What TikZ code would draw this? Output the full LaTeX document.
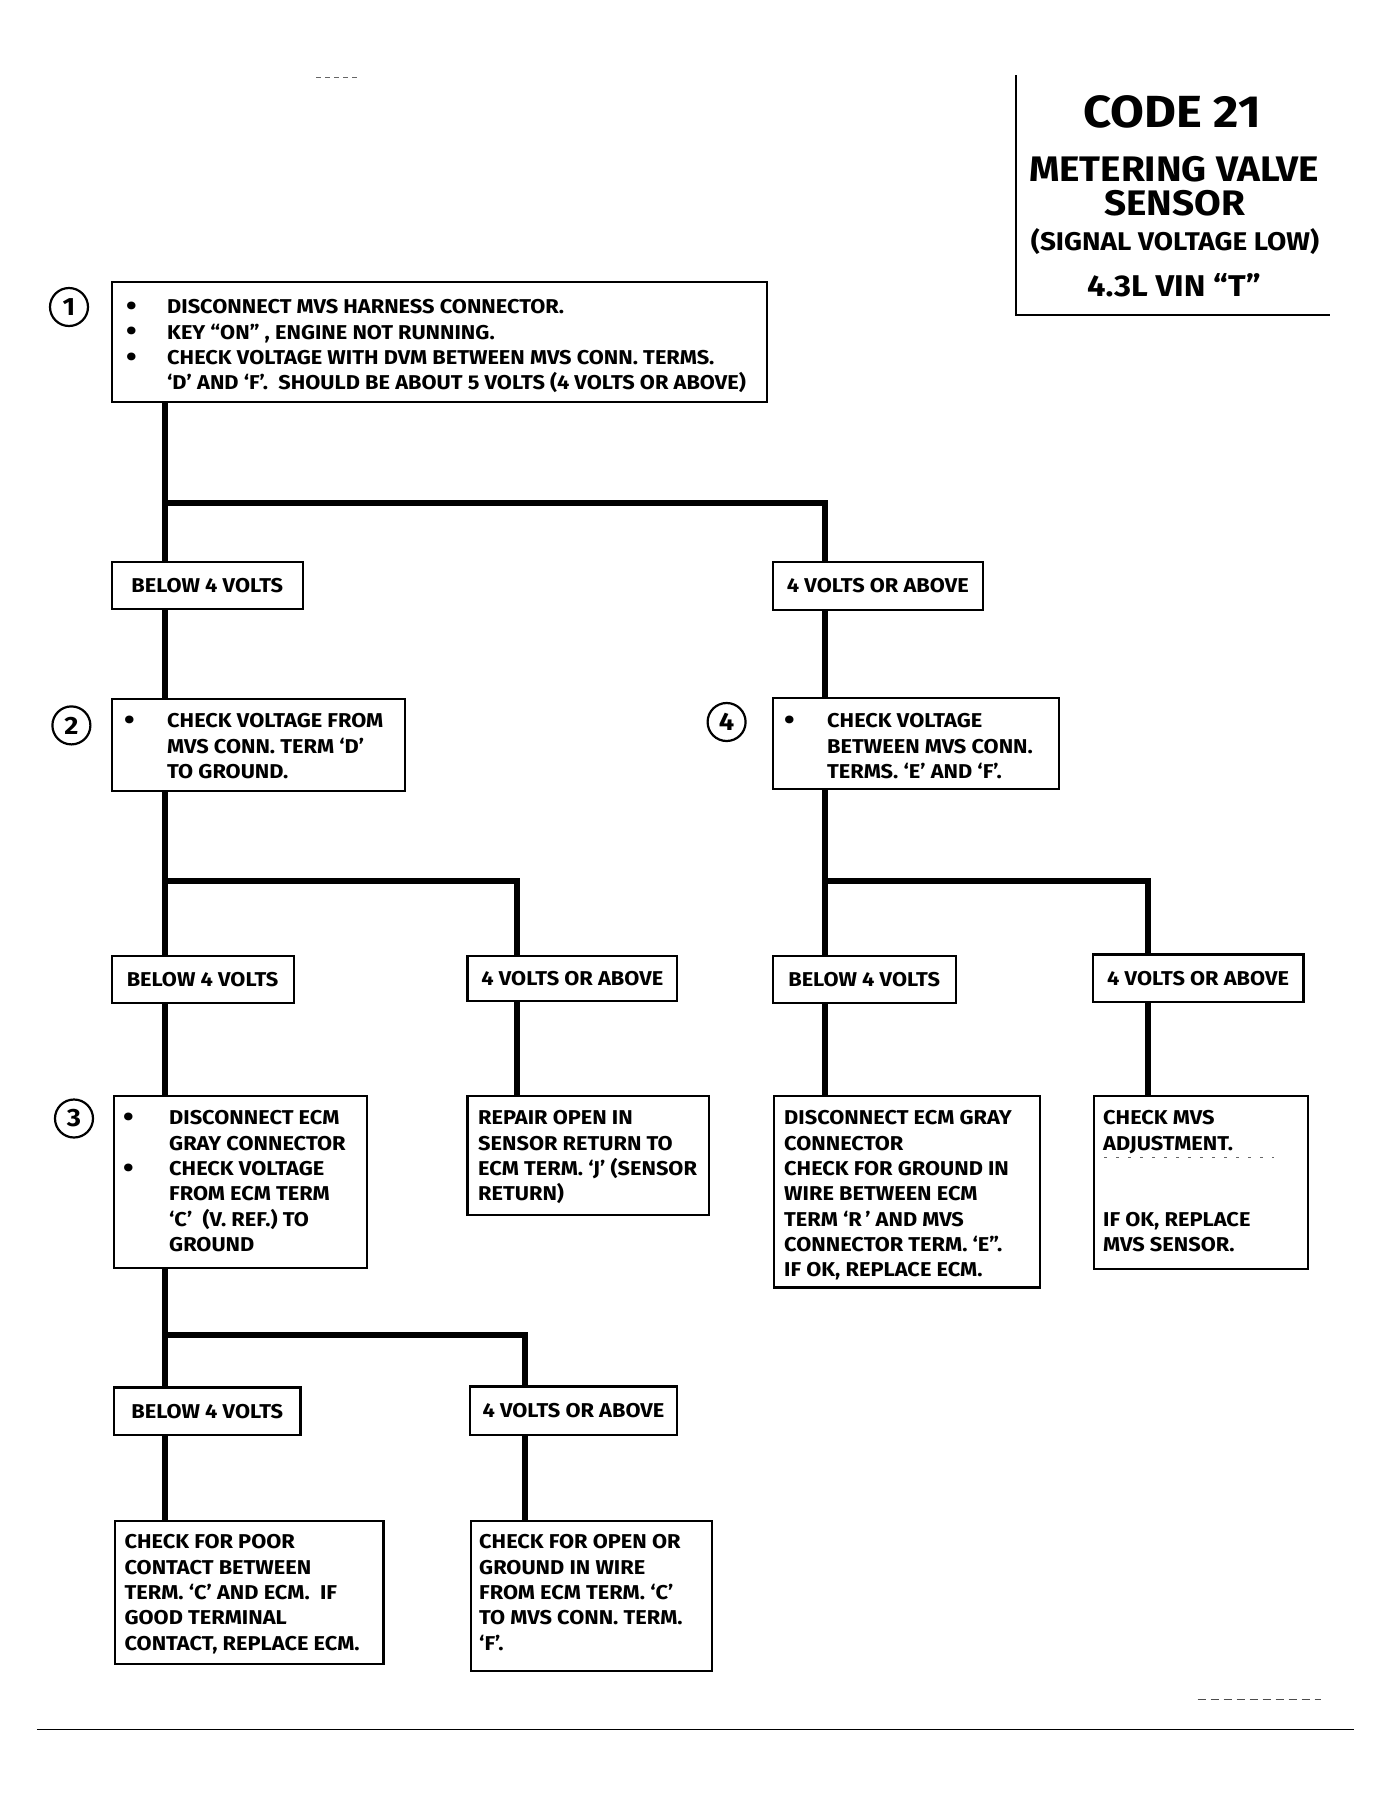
\documentclass[tikz,border=0pt]{standalone}
\usepackage{fontspec}
\newfontfamily\nfont{Fira Sans}[Ligatures=TeX, FakeStretch=1.09]
\newcommand\bodyfont{\nfont\bfseries\fontsize{20}{25.3}\selectfont}
\newcommand\bl[1]{\makebox[#1][l]{\hspace{0pt}\raisebox{-1.5pt}{\fontsize{28}{28}\selectfont\textbullet}}}
\tikzset{
  box/.style={draw, line width=2.2pt, inner sep=0pt, anchor=north west, fill=white, font=\bodyfont},
  txt/.style={inner sep=0pt, anchor=base west, font=\bodyfont},
  conn/.style={line width=6pt},
  circ/.style={draw, circle, line width=2.2pt, minimum size=38pt, inner sep=0pt, font=\nfont\bfseries\fontsize{25}{25}\selectfont},
  ttl/.style={inner sep=0pt, anchor=center}
}
\begin{document}
\begin{tikzpicture}[x=1pt,y=-1pt]
\fill[white] (0,0) rectangle (1391,1805);
\useasboundingbox (0,0) rectangle (1391,1805);

% title block
\draw[line width=2pt] (1016,75) -- (1016,315) -- (1330,315);
\node[ttl, font=\nfont\bfseries\fontsize{45}{45}\selectfont] (t1) at (1172,112) {CODE 21};
\node[ttl, font=\nfont\bfseries\fontsize{35.5}{35.5}\selectfont] (t2) at (1174,169) {METERING VALVE};
\node[ttl, font=\nfont\bfseries\fontsize{35.5}{35.5}\selectfont] (t3) at (1174.5,203) {SENSOR};
\node[ttl, font=\nfont\bfseries\fontsize{25.6}{25.6}\selectfont] (t4) at (1175,242) {(SIGNAL VOLTAGE LOW)};
\node[ttl, font=\nfont\bfseries\fontsize{30}{30}\selectfont] (t5) at (1174,285) {4.3L VIN ``T''};

% boxes
\node[box, minimum width=655.2, minimum height=119.7] (b1) at (110.5,281) {};
\node[box, minimum width=191.2, minimum height=47.2] (l1) at (110.5,560.8) {BELOW 4 VOLTS\hspace{4pt}};
\node[box, minimum width=210.5, minimum height=48.2] (r1) at (771.5,560.8) {4 VOLTS OR ABOVE\hspace{12pt}};
\node[box, minimum width=293.7, minimum height=92.2] (b2) at (110.5,697.8) {};
\node[box, minimum width=286.5, minimum height=90.9] (b4) at (771.5,696.7) {};
\node[box, minimum width=182, minimum height=47.2] (l2) at (110.5,954.6) {BELOW 4 VOLTS\hspace{9pt}};
\node[box, minimum width=209.6, minimum height=44.9] (m2) at (466.4,954.6) {4 VOLTS OR ABOVE\hspace{9pt}};
\node[box, minimum width=183.1, minimum height=47.2] (l4) at (771.5,954.6) {BELOW 4 VOLTS\hspace{11pt}};
\node[box, minimum width=210.8, minimum height=47.3] (r4) at (1091.6,953.4) {4 VOLTS OR ABOVE\hspace{11pt}};
\node[box, minimum width=253.4, minimum height=171.7] (b3) at (112.8,1095) {};
\node[box, minimum width=241.8, minimum height=118.7] (rp) at (466.4,1095) {};
\node[box, minimum width=266, minimum height=191.3] (ec) at (772.7,1095) {};
\node[box, minimum width=214.2, minimum height=172.8] (mv) at (1092.8,1095) {};
\node[box, minimum width=186.6, minimum height=47.2] (l3) at (112.8,1386.4) {BELOW 4 VOLTS\hspace{13pt}};
\node[box, minimum width=207.3, minimum height=48.3] (m3) at (468.7,1385.3) {4 VOLTS OR ABOVE\hspace{9pt}};
\node[box, minimum width=268.3, minimum height=142.8] (pc) at (114,1520) {};
\node[box, minimum width=240.7, minimum height=149.7] (og) at (469.8,1520) {};

% circled step numbers
\node[circ] (c1) at (69,307) {1};
\node[circ] (c2) at (71.4,725.4) {2};
\node[circ] (c3) at (74,1118.5) {3};
\node[circ] (c4) at (726.6,722) {4};

% box texts
\node[txt] (b1t) at (126,313.9) {\begin{tabular}[t]{@{}l@{}}
\bl{41pt}DISCONNECT MVS HARNESS CONNECTOR.\\
\bl{41pt}KEY ``ON'' , ENGINE NOT RUNNING.\\
\bl{41pt}CHECK VOLTAGE WITH DVM BETWEEN MVS CONN. TERMS.\\
\hspace{41pt}`D' AND `F'.\ \ SHOULD BE ABOUT 5 VOLTS (4 VOLTS OR ABOVE)
\end{tabular}};
\node[txt] (b2t) at (124,727.9) {\begin{tabular}[t]{@{}l@{}}
\bl{43pt}CHECK VOLTAGE FROM\\
\hspace{43pt}MVS CONN. TERM `D'\\
\hspace{43pt}TO GROUND.
\end{tabular}};
\node[txt] (b4t) at (784,727.9) {\begin{tabular}[t]{@{}l@{}}
\bl{43pt}CHECK VOLTAGE\\
\hspace{43pt}BETWEEN MVS CONN.\\
\hspace{43pt}TERMS. `E' AND `F'.
\end{tabular}};
\node[txt] (b3t) at (123,1124.9) {\begin{tabular}[t]{@{}l@{}}
\bl{46pt}DISCONNECT ECM\\
\hspace{46pt}GRAY CONNECTOR\\
\bl{46pt}CHECK VOLTAGE\\
\hspace{46pt}FROM ECM TERM\\
\hspace{46pt}`C' \ (V. REF.) TO\\
\hspace{46pt}GROUND
\end{tabular}};
\node[txt] (rpt) at (478,1124.9) {\begin{tabular}[t]{@{}l@{}}
REPAIR OPEN IN\\
SENSOR RETURN TO\\
ECM TERM. `J' (SENSOR\\
RETURN)
\end{tabular}};
\node[txt] (ect) at (784,1124.9) {\begin{tabular}[t]{@{}l@{}}
DISCONNECT ECM GRAY\\
CONNECTOR\\
CHECK FOR GROUND IN\\
WIRE BETWEEN ECM\\
TERM `R\,' AND MVS\\
CONNECTOR TERM. `E''.\\
IF OK, REPLACE ECM.
\end{tabular}};
\node[txt] (mvt) at (1103,1124.9) {\begin{tabular}[t]{@{}l@{}}
CHECK MVS\\
ADJUSTMENT.\\
\\
\\
IF OK, REPLACE\\
MVS SENSOR.
\end{tabular}};
\node[txt] (pct) at (124.4,1548.8) {\begin{tabular}[t]{@{}l@{}}
CHECK FOR POOR\\
CONTACT BETWEEN\\
TERM. `C' AND ECM.\ \ IF\\
GOOD TERMINAL\\
CONTACT, REPLACE ECM.
\end{tabular}};
\node[txt] (ogt) at (479,1548.8) {\begin{tabular}[t]{@{}l@{}}
CHECK FOR OPEN OR\\
GROUND IN WIRE\\
FROM ECM TERM. `C'\\
TO MVS CONN. TERM.\\
`F'.
\end{tabular}};

% junction coordinates
\coordinate (ja) at (164.7,503);
\coordinate (ka) at (824.5,503);
\coordinate (jb) at (164.7,881);
\coordinate (kb) at (517,881);
\coordinate (jd) at (824.5,881);
\coordinate (kd) at (1148,881);
\coordinate (jc) at (164.7,1334.6);
\coordinate (kc) at (525,1334.6);

% connectors
\draw[conn] (b1.south -| ja) -- (l1.north -| ja);
\draw[conn] (ja) -- (ka) -- (r1.north -| ka);
\draw[conn] (l1.south -| ja) -- (b2.north -| ja);
\draw[conn] (r1.south -| ka) -- (b4.north -| ka);

\draw[conn] (b2.south -| jb) -- (l2.north -| jb);
\draw[conn] (jb) -- (kb) -- (m2.north -| kb);
\draw[conn] (l2.south -| jb) -- (b3.north -| jb);
\draw[conn] (m2.south -| kb) -- (rp.north -| kb);

\draw[conn] (b4.south -| jd) -- (l4.north -| jd);
\draw[conn] (jd) -- (kd) -- (r4.north -| kd);
\draw[conn] (l4.south -| jd) -- (ec.north -| jd);
\draw[conn] (r4.south -| kd) -- (mv.north -| kd);

\draw[conn] (b3.south -| jc) -- (l3.north -| jc);
\draw[conn] (jc) -- (kc) -- (m3.north -| kc);
\draw[conn] (l3.south -| jc) -- (pc.north -| jc);
\draw[conn] (m3.south -| kc) -- (og.north -| kc);

% page rule and faint scan marks
\draw[line width=1.5pt] (36.8,1729.6) -- (1354,1729.6);
\draw[line width=0.8pt, dash pattern=on 8pt off 5pt, black!70] (1197.6,1699.7) -- (1320.8,1699.7);
\draw[line width=0.8pt, dash pattern=on 5pt off 4pt, black!60] (316,77) -- (357,77);
\draw[line width=0.8pt, dash pattern=on 3pt off 9pt, black!60] (1104,1157) -- (1274,1157);
\end{tikzpicture}
\end{document}
